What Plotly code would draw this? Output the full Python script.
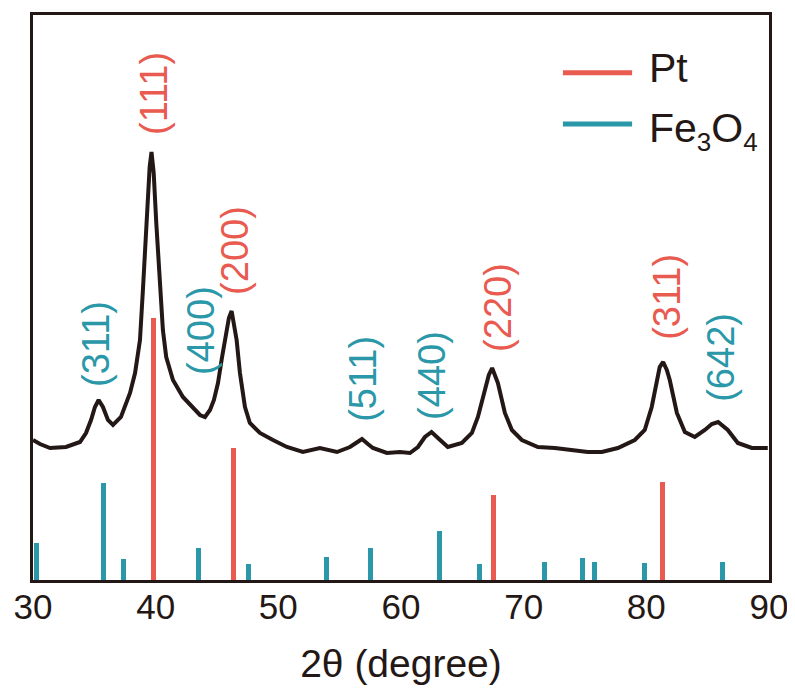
import plotly.graph_objects as go

# ---- data ----
two_theta = [30.00, 30.57, 31.39, 32.69, 33.83, 34.32, 34.73, 35.05, 35.35, 35.70, 36.11, 36.52,
             37.17, 37.91, 38.32, 38.72, 38.96, 39.23, 39.51, 39.66, 39.84, 40.05, 40.33, 40.59,
             40.86, 41.41, 42.22, 43.04, 43.61, 44.02, 44.43, 44.75, 45.08, 45.40, 45.73, 45.97,
             46.19, 46.60, 46.87, 47.28, 47.68, 48.50, 49.56, 50.70, 52.00, 53.39, 54.78, 55.84,
             56.33, 56.82, 57.30, 57.71, 58.85, 59.91, 60.73, 61.38, 61.95, 62.49, 63.01, 63.82,
             64.96, 65.78, 66.27, 66.84, 67.16, 67.43, 67.90, 68.47, 69.04, 69.85, 71.16, 72.54,
             73.93, 75.23, 76.37, 77.68, 79.06, 79.87, 80.44, 80.85, 81.09, 81.37, 81.67, 81.91,
             82.49, 83.14, 83.95, 84.77, 85.34, 85.85, 86.64, 87.46, 88.60, 89.90]
intensity = [140, 136, 132, 133, 138, 147, 160, 173, 180, 173, 160, 155,
             163, 187, 207, 240, 290, 357, 413, 428, 407, 357, 293, 250,
             223, 200, 183, 173, 165, 163, 170, 180, 197, 222, 247, 262,
             269, 240, 207, 173, 157, 147, 140, 133, 128, 132, 128, 133,
             137, 141, 136, 132, 127, 128, 127, 133, 143, 148, 142, 133,
             137, 147, 163, 190, 205, 212, 197, 167, 150, 140, 133, 132,
             130, 128, 128, 132, 140, 150, 173, 200, 213, 218, 210, 200,
             167, 148, 143, 150, 156, 158, 150, 137, 132, 132]

pt_pos = [39.80, 46.32, 67.51, 81.32]
pt_int = [262, 132, 85, 98]

fe_pos = [30.30, 35.73, 37.36, 43.47, 47.55, 53.94, 57.52, 63.17, 66.43, 71.67, 74.77, 75.80, 79.82, 86.18]
fe_int = [37, 97, 21, 32, 16, 23, 32, 49, 16, 18, 22, 18, 17, 18]

pt_hkl = ["(111)", "(200)", "(220)", "(311)"]
fe_hkl = ["(311)", "(400)", "(511)", "(440)", "(642)"]

x_ticks = [30, 40, 50, 60, 70, 80, 90]

# ---- styles ----
DARK = "#231815"
PT_C = "#E95A50"
FE_C = "#2A98A8"
FONT = "Liberation Sans, Arial, sans-serif"

fig = go.Figure()
fig.add_trace(go.Bar(x=fe_pos, y=fe_int, width=0.42, marker=dict(color=FE_C, line=dict(width=0)),
                     name="Fe3O4", showlegend=False))
fig.add_trace(go.Bar(x=pt_pos, y=pt_int, width=0.42, marker=dict(color=PT_C, line=dict(width=0)),
                     name="Pt", showlegend=False))
fig.add_trace(go.Scatter(x=two_theta, y=intensity, mode="lines",
                         line=dict(color=DARK, width=4), showlegend=False))

# hkl labels (placement in data coords)
pt_lab_xy = [(39.86, 487), (46.46, 330), (67.90, 273), (81.67, 283)]
fe_lab_xy = [(35.13, 236), (43.69, 250), (56.89, 201), (62.52, 205), (86.07, 223)]
ann = []
for t, (x, y) in zip(pt_hkl, pt_lab_xy):
    ann.append(dict(x=x, y=y, xref="x", yref="y", text=t, textangle=-90, showarrow=False,
                    font=dict(family=FONT, size=38, color=PT_C), xanchor="center", yanchor="middle"))
for t, (x, y) in zip(fe_hkl, fe_lab_xy):
    ann.append(dict(x=x, y=y, xref="x", yref="y", text=t, textangle=-90, showarrow=False,
                    font=dict(family=FONT, size=38, color=FE_C), xanchor="center", yanchor="middle"))

# legend (drawn manually)
shapes = [
    dict(type="line", xref="paper", yref="paper", x0=0.720, x1=0.814, y0=0.898, y1=0.898,
         line=dict(color=PT_C, width=5)),
    dict(type="line", xref="paper", yref="paper", x0=0.720, x1=0.814, y0=0.807, y1=0.807,
         line=dict(color=FE_C, width=5)),
]
ann.append(dict(x=0.834, y=0.906, xref="paper", yref="paper", text="Pt", showarrow=False,
                font=dict(family=FONT, size=41, color=DARK), xanchor="left", yanchor="middle"))
ann.append(dict(x=0.834, y=0.795, xref="paper", yref="paper",
                text="Fe<sub><span style='font-size:26px'>3</span></sub>O<sub><span style='font-size:26px'>4</span></sub>",
                showarrow=False, font=dict(family=FONT, size=41, color=DARK),
                xanchor="left", yanchor="middle"))

# page body has an 8px default margin, so margins are offset accordingly
fig.update_layout(
    width=795, height=688,
    margin=dict(l=25, r=34, t=7, b=116, autoexpand=False),
    paper_bgcolor="white", plot_bgcolor="white",
    bargap=0, barmode="overlay",
    annotations=ann, shapes=shapes,
    font=dict(family=FONT, color=DARK),
    xaxis=dict(range=[30, 90], tickvals=x_ticks, ticks="", showgrid=False, zeroline=False,
               showline=True, mirror=True, linecolor=DARK, linewidth=3,
               ticklabelstandoff=-6, automargin=False,
               tickfont=dict(family=FONT, size=35, color=DARK),
               title=dict(text="2θ (degree)", font=dict(family=FONT, size=39, color=DARK), standoff=25)),
    yaxis=dict(range=[0, 565], showticklabels=False, ticks="", showgrid=False, zeroline=False,
               showline=True, mirror=True, linecolor=DARK, linewidth=3, automargin=False),
)

fig.write_html("out.html")
